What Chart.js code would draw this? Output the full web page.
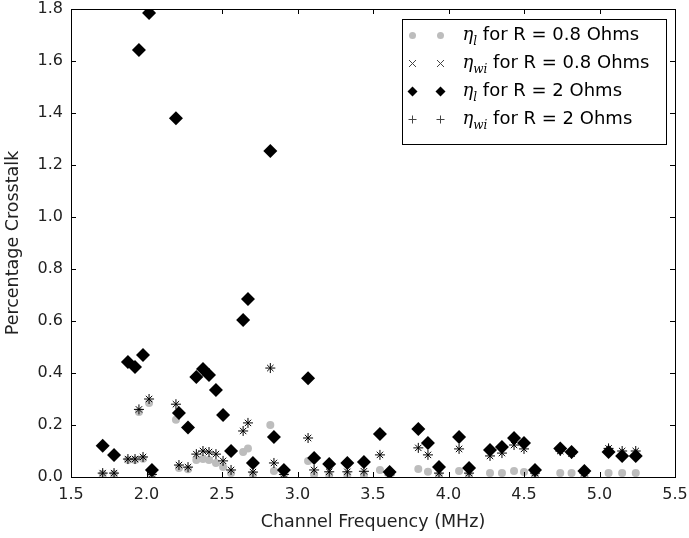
<!DOCTYPE html>
<html>
<head>
<meta charset="utf-8">
<script src="https://cdn.jsdelivr.net/npm/chart.js@4/dist/chart.umd.min.js"></script>
<style>
  body { margin: 0; background: #fff; }
  #wrap { width: 689px; height: 538px; }
</style>
</head>
<body>
<div id="wrap"><canvas id="chart" width="689" height="538"></canvas></div>
<script>
// channel frequencies (MHz)
const freqs = [1.71, 1.785, 1.877, 1.924, 1.95, 1.977, 2.017, 2.036, 2.195, 2.215, 2.275, 2.33, 2.374, 2.414, 2.46, 2.507, 2.56,
  2.64, 2.672, 2.705, 2.82, 2.844, 2.91, 3.07, 3.11, 3.21, 3.33, 3.44, 3.546, 3.61, 3.80, 3.864, 3.937, 4.07, 4.136,
  4.275, 4.354, 4.434, 4.50, 4.573, 4.74, 4.815, 4.90, 5.06, 5.15, 5.24];

const etaL08 = [0.012, 0.012, 0.065, 0.065, 0.25, 0.07, 0.285, 0.005, 0.22, 0.035, 0.03, 0.065, 0.069, 0.065, 0.054, 0.038, 0.015,
  0.096, 0.11, 0.01, 0.2, 0.023, 0.005, 0.062, 0.01, 0.008, 0.008, 0.008, 0.027, 0.004, 0.031, 0.02, 0.006, 0.023, 0.005,
  0.015, 0.015, 0.023, 0.019, 0.005, 0.015, 0.015, 0.004, 0.015, 0.015, 0.015];

const etaWi08 = [0.015, 0.015, 0.069, 0.069, 0.26, 0.077, 0.30, 0.01, 0.28, 0.046, 0.038, 0.088, 0.10, 0.096, 0.088, 0.062, 0.027,
  0.177, 0.208, 0.019, 0.419, 0.054, 0.01, 0.15, 0.027, 0.02, 0.02, 0.022, 0.085, 0.008, 0.112, 0.085, 0.015, 0.108, 0.015,
  0.081, 0.092, 0.123, 0.108, 0.015, 0.10, 0.09, 0.015, 0.11, 0.10, 0.10];

const etaL2 = [0.12, 0.085, 0.442, 0.423, 1.642, 0.469, 1.785, 0.027, 1.38, 0.246, 0.19, 0.385, 0.415, 0.392, 0.335, 0.238, 0.10,
  0.604, 0.685, 0.054, 1.254, 0.154, 0.027, 0.38, 0.073, 0.05, 0.054, 0.058, 0.165, 0.019, 0.185, 0.131, 0.038, 0.154, 0.035,
  0.104, 0.115, 0.15, 0.131, 0.027, 0.11, 0.096, 0.023, 0.096, 0.081, 0.081];

const etaWi2 = [0.015, 0.015, 0.069, 0.069, 0.26, 0.077, 0.30, 0.01, 0.28, 0.046, 0.038, 0.088, 0.10, 0.096, 0.088, 0.062, 0.027,
  0.177, 0.208, 0.019, 0.419, 0.054, 0.01, 0.15, 0.027, 0.02, 0.02, 0.022, 0.085, 0.008, 0.112, 0.085, 0.015, 0.108, 0.015,
  0.081, 0.092, 0.123, 0.108, 0.015, 0.10, 0.09, 0.015, 0.11, 0.10, 0.10];

const legendSubs = ['l', 'wi', 'l', 'wi'];
const legendRest = [' for R = 0.8 Ohms', ' for R = 0.8 Ohms', ' for R = 2 Ohms', ' for R = 2 Ohms'];

const toPoints = (ys) => freqs.map((x, i) => ({ x, y: ys[i] }));
const GRAY = '#bdbdbd';

// matplotlib-ish frame with inward ticks on all four sides
const framePlugin = {
  id: 'frame',
  afterDatasetsDraw(chart) {
    const { ctx, chartArea: a, scales } = chart;
    const len = 5;
    ctx.save();
    ctx.strokeStyle = '#000';
    ctx.lineWidth = 1;
    ctx.beginPath();
    scales.x.ticks.forEach((t) => {
      const px = Math.round(scales.x.getPixelForValue(t.value)) + 0.5;
      ctx.moveTo(px, a.bottom); ctx.lineTo(px, a.bottom - len);
      ctx.moveTo(px, a.top); ctx.lineTo(px, a.top + len);
    });
    scales.y.ticks.forEach((t) => {
      const py = Math.round(scales.y.getPixelForValue(t.value)) + 0.5;
      ctx.moveTo(a.left, py); ctx.lineTo(a.left + len, py);
      ctx.moveTo(a.right, py); ctx.lineTo(a.right - len, py);
    });
    ctx.stroke();
    ctx.strokeRect(Math.round(a.left) + 0.5, Math.round(a.top) + 0.5, Math.round(a.right - a.left), Math.round(a.bottom - a.top));
    ctx.restore();
  }
};

function drawMarker(ctx, kind, x, y) {
  ctx.beginPath();
  if (kind === 'circle') {
    ctx.fillStyle = GRAY;
    ctx.arc(x, y, 3.5, 0, Math.PI * 2);
    ctx.fill();
  } else if (kind === 'crossRot') {
    ctx.strokeStyle = '#444';
    ctx.lineWidth = 1;
    ctx.moveTo(x - 3.5, y - 3.5); ctx.lineTo(x + 3.5, y + 3.5);
    ctx.moveTo(x - 3.5, y + 3.5); ctx.lineTo(x + 3.5, y - 3.5);
    ctx.stroke();
  } else if (kind === 'rectRot') {
    ctx.fillStyle = '#000';
    ctx.moveTo(x - 5, y); ctx.lineTo(x, y - 5); ctx.lineTo(x + 5, y); ctx.lineTo(x, y + 5);
    ctx.closePath();
    ctx.fill();
  } else {
    ctx.strokeStyle = '#444';
    ctx.lineWidth = 1;
    ctx.moveTo(x - 4, y); ctx.lineTo(x + 4, y);
    ctx.moveTo(x, y - 4); ctx.lineTo(x, y + 4);
    ctx.stroke();
  }
}

const legendPlugin = {
  id: 'mplLegend',
  afterDraw(chart) {
    const { ctx, chartArea: a } = chart;
    const w = 264, h = 125;
    const bx = Math.round(a.right - 9 - w) + 0.5;
    const by = Math.round(a.top + 10) + 0.5;
    ctx.save();
    ctx.fillStyle = '#fff';
    ctx.fillRect(bx, by, w, h);
    ctx.strokeStyle = '#000';
    ctx.lineWidth = 1;
    ctx.strokeRect(bx, by, w, h);
    chart.data.datasets.forEach((ds, i) => {
      const y = by + 16 + i * 28;
      drawMarker(ctx, ds.pointStyle, bx + 10, y);
      drawMarker(ctx, ds.pointStyle, bx + 38, y);
      let tx = bx + 60;
      ctx.fillStyle = '#000';
      ctx.textBaseline = 'middle';
      ctx.font = 'italic 18px "DejaVu Serif"';
      ctx.fillText('η', tx, y);
      tx += ctx.measureText('η').width;
      ctx.font = 'italic 12px "DejaVu Serif"';
      ctx.fillText(legendSubs[i], tx, y + 6);
      tx += ctx.measureText(legendSubs[i]).width;
      ctx.font = '18px "DejaVu Sans"';
      ctx.fillText(legendRest[i], tx, y);
    });
    ctx.restore();
  }
};

const tickFont = { family: '"DejaVu Sans"', size: 16 };
const titleFont = { family: '"DejaVu Sans"', size: 17.5 };

new Chart(document.getElementById('chart'), {
  type: 'scatter',
  data: {
    datasets: [
      { label: 'eta_l for R = 0.8 Ohms', data: toPoints(etaL08), pointStyle: 'circle', pointRadius: 4,
        backgroundColor: GRAY, borderColor: GRAY, borderWidth: 0, order: 4 },
      { label: 'eta_wi for R = 0.8 Ohms', data: toPoints(etaWi08), pointStyle: 'crossRot', pointRadius: 4.5,
        borderColor: '#000', borderWidth: 1, order: 3 },
      { label: 'eta_l for R = 2 Ohms', data: toPoints(etaL2), pointStyle: 'rectRot', pointRadius: 7,
        backgroundColor: '#000', borderColor: '#000', borderWidth: 0, order: 2 },
      { label: 'eta_wi for R = 2 Ohms', data: toPoints(etaWi2), pointStyle: 'cross', pointRadius: 5,
        borderColor: '#000', borderWidth: 1, order: 1 }
    ]
  },
  options: {
    responsive: false,
    animation: false,
    layout: { padding: { top: 9, right: 14, left: 0, bottom: 0 } },
    plugins: { legend: { display: false }, tooltip: { enabled: false } },
    scales: {
      x: {
        type: 'linear', min: 1.5, max: 5.5,
        grid: { display: false, drawTicks: false },
        border: { display: false },
        ticks: { stepSize: 0.5, padding: 8, color: '#222', font: tickFont, callback: (v) => v.toFixed(1) },
        title: { display: true, text: 'Channel Frequency (MHz)', color: '#222', font: titleFont, padding: { top: 0, bottom: 5 } },
        afterFit: (s) => { s.height = 61; s.paddingLeft = 0; s.paddingRight = 0; }
      },
      y: {
        type: 'linear', min: 0, max: 1.8,
        grid: { display: false, drawTicks: false },
        border: { display: false },
        ticks: { stepSize: 0.2, padding: 8, color: '#222', font: tickFont, callback: (v) => v.toFixed(1) },
        title: { display: true, text: 'Percentage Crosstalk', color: '#222', font: titleFont, padding: { top: 3, bottom: 0 } },
        afterFit: (s) => { s.width = 71; s.paddingTop = 0; s.paddingBottom = 0; }
      }
    }
  },
  plugins: [framePlugin, legendPlugin]
});
</script>
</body>
</html>
